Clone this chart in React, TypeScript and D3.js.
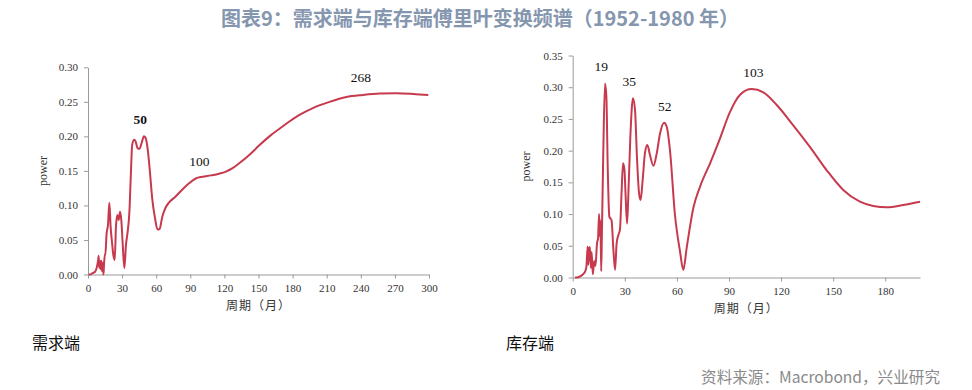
import React, { useEffect, useRef } from "react";
import * as d3 from "d3";

// ---- Data ----
const demandPeriods = [0.6, 1.8, 4, 6.2, 8.2, 9.0, 9.4, 9.8, 10.4, 10.6, 11.0, 11.7, 12.3, 12.9, 13.6, 14.1, 15.0, 15.2, 16.4, 17.6, 18.8, 19.9, 21.1, 22.3, 23.5, 24.6, 25.8, 27, 28.2, 29.3, 30.5, 32, 33.4, 34.9, 36.4, 37.6, 38.9, 40.6, 41.8, 43.6, 45.3, 47.1, 49.2, 50.6, 52.4, 54.2, 56.5, 58.9, 61.2, 63, 65.4, 68.3, 71.2, 77.1, 83, 88.9, 94.8, 100.7, 108, 115.4, 121.3, 127.2, 133, 141.9, 150.7, 159.6, 168.4, 177.2, 186, 197.8, 212.5, 227.3, 242, 256.7, 271.4, 286.1, 299.4];
const demandPower = [0, 0, 0.002, 0.004, 0.014, 0.022, 0.027, 0.01, 0.02, 0.014, 0.008, 0.02, 0.005, 0.017, 0.0, 0.015, 0.03, 0.028, 0.06, 0.072, 0.104, 0.069, 0.047, 0.028, 0.021, 0.069, 0.086, 0.079, 0.091, 0.079, 0.045, 0.009, 0.043, 0.062, 0.09, 0.14, 0.188, 0.195, 0.193, 0.183, 0.182, 0.19, 0.2, 0.198, 0.183, 0.154, 0.11, 0.082, 0.065, 0.066, 0.084, 0.097, 0.104, 0.113, 0.123, 0.132, 0.139, 0.1415, 0.1435, 0.146, 0.149, 0.154, 0.161, 0.173, 0.187, 0.2, 0.211, 0.2215, 0.231, 0.241, 0.25, 0.257, 0.26, 0.262, 0.2625, 0.2615, 0.26];

const inventoryPeriods = [1.3, 2.3, 5, 7.1, 7.9, 8.6, 9.0, 9.4, 9.9, 10.5, 10.9, 11.6, 12.4, 13.1, 14, 14.6, 15.2, 15.6, 16, 16.4, 16.8, 17.6, 18.6, 19.4, 20.2, 21.1, 22.4, 23.4, 24.4, 25.3, 26.3, 27.2, 28.2, 29, 29.8, 30.5, 31.3, 32, 33.2, 34.7, 35.9, 37, 38.2, 39.1, 40.3, 41.6, 43, 44.5, 46.5, 48.4, 50.3, 52.6, 54.1, 56, 58.9, 61.8, 63.7, 65.6, 69.5, 73.3, 79.1, 84.8, 90.6, 96.4, 103.1, 109.8, 117.5, 127, 136.6, 146.3, 155.8, 165.4, 173.1, 180.8, 190.4, 200];
const inventoryPower = [0, 0, 0.003, 0.009, 0.017, 0.049, 0.02, 0.045, 0.048, 0.015, 0.04, 0.005, 0.026, 0.018, 0.054, 0.062, 0.1, 0.065, 0.09, 0.01, 0.065, 0.196, 0.306, 0.285, 0.17, 0.096, 0.09, 0.045, 0.012, 0.054, 0.067, 0.075, 0.138, 0.18, 0.17, 0.127, 0.085, 0.127, 0.222, 0.2825, 0.264, 0.19, 0.133, 0.122, 0.154, 0.196, 0.209, 0.193, 0.176, 0.196, 0.227, 0.244, 0.238, 0.201, 0.0985, 0.041, 0.012, 0.046, 0.11, 0.143, 0.18, 0.219, 0.261, 0.288, 0.297, 0.292, 0.272, 0.24, 0.206, 0.169, 0.138, 0.1195, 0.1127, 0.1107, 0.1143, 0.1195];

const demandXTicks = [0, 30, 60, 90, 120, 150, 180, 210, 240, 270, 300];
const demandYTicks = [0, 0.05, 0.1, 0.15, 0.2, 0.25, 0.3];
const inventoryXTicks = [0, 30, 60, 90, 120, 150, 180];
const inventoryYTicks = [0, 0.05, 0.1, 0.15, 0.2, 0.25, 0.3, 0.35];

const demandPeaks = [
  { label: "50", period: 46, power: 0.2, bold: true },
  { label: "100", period: 98, power: 0.14, bold: false },
  { label: "268", period: 240, power: 0.262, bold: false },
];
const inventoryPeaks = [
  { label: "19", period: 16.5, power: 0.306 },
  { label: "35", period: 32.5, power: 0.2825 },
  { label: "52", period: 53, power: 0.244 },
  { label: "103", period: 104, power: 0.297 },
];

const title = "图表9：需求端与库存端傅里叶变换频谱（1952-1980 年）";
const xTitle = "周期（月）";
const yTitle = "power";
const leftCaption = "需求端";
const rightCaption = "库存端";
const source = "资料来源：Macrobond，兴业研究";

const LINE = "#C73A4E";
const AXIS = "#9a9a9a";
const SERIF = "'Liberation Serif', 'Times New Roman', serif";
const CJK = "'Noto Sans CJK SC', sans-serif";

export default function App() {
  const ref = useRef<SVGSVGElement>(null);

  useEffect(() => {
    const svg = d3.select(ref.current);
    svg.selectAll("*").remove();

    function panel(opts: any) {
      const { periods, power, xDomain, yDomain, xRange, yRange, xTicks, yTicks } = opts;
      const x = d3.scaleLinear().domain(xDomain).range(xRange);
      const y = d3.scaleLinear().domain(yDomain).range(yRange);
      const g = svg.append("g");

      const yAx = g.append("g").attr("transform", `translate(${xRange[0]},0)`)
        .call(d3.axisLeft(y).tickValues(yTicks).tickFormat(d3.format(".2f") as any).tickSizeInner(4).tickSizeOuter(0).tickPadding(6));
      const xAx = g.append("g").attr("transform", `translate(0,${yRange[0]})`)
        .call(d3.axisBottom(x).tickValues(xTicks).tickFormat(d3.format("d") as any).tickSizeInner(4).tickSizeOuter(0).tickPadding(6));
      [yAx, xAx].forEach((a) => {
        a.attr("font-family", SERIF);
        a.selectAll("path,line").attr("stroke", AXIS).attr("stroke-width", 1);
        a.selectAll("text").attr("font-family", SERIF).attr("font-size", 11).attr("fill", "#333");
      });

      const pts = periods.map((p: number, i: number) => [p, power[i]] as [number, number]);
      const line = d3.line<[number, number]>().x((d) => x(d[0])).y((d) => y(d[1])).curve(d3.curveMonotoneX);
      g.append("path").attr("d", line(pts)).attr("fill", "none").attr("stroke", LINE)
        .attr("stroke-width", 2).attr("stroke-linejoin", "round");

      opts.peaks.forEach((pk: any) => {
        g.append("text").attr("x", x(pk.period)).attr("y", y(pk.power) - 12)
          .attr("text-anchor", "middle").attr("font-family", SERIF).attr("font-size", 13.5)
          .attr("font-weight", pk.bold ? "bold" : "normal").attr("fill", "#111").text(pk.label);
      });

      g.append("text").attr("x", (xRange[0] + xRange[1]) / 2).attr("y", yRange[0] + 35)
        .attr("text-anchor", "middle").attr("font-family", SERIF + ", " + CJK).attr("font-size", 12)
        .attr("fill", "#333").attr("letter-spacing", 1).text(xTitle);
      g.append("text").attr("transform", `translate(${opts.yTitleX},${(yRange[0] + yRange[1]) / 2}) rotate(-90)`)
        .attr("text-anchor", "middle").attr("dominant-baseline", "middle").attr("font-family", SERIF)
        .attr("font-size", 12).attr("fill", "#333").text(yTitle);
    }

    panel({
      periods: demandPeriods, power: demandPower, xDomain: [0, 300], yDomain: [0, 0.3],
      xRange: [88, 429], yRange: [274.5, 67.3], xTicks: demandXTicks, yTicks: demandYTicks,
      peaks: demandPeaks, yTitleX: 44,
    });
    panel({
      periods: inventoryPeriods, power: inventoryPower, xDomain: [0, 200], yDomain: [0, 0.35],
      xRange: [572.7, 920], yRange: [277.5, 55.5], xTicks: inventoryXTicks, yTicks: inventoryYTicks,
      peaks: inventoryPeaks, yTitleX: 527,
    });

    svg.append("text").attr("x", 480).attr("y", 26).attr("text-anchor", "middle")
      .attr("font-family", CJK).attr("font-weight", "bold").attr("font-size", 20)
      .attr("fill", "#8596AF").text(title);
    svg.append("text").attr("x", 32).attr("y", 349).attr("font-family", CJK)
      .attr("font-size", 16).attr("fill", "#111").text(leftCaption);
    svg.append("text").attr("x", 506).attr("y", 349).attr("font-family", CJK)
      .attr("font-size", 16).attr("fill", "#111").text(rightCaption);
    svg.append("text").attr("x", 940).attr("y", 383).attr("text-anchor", "end").attr("font-family", CJK)
      .attr("font-size", 15.6).attr("fill", "#8a8a8a").text(source);
  }, []);

  return (
    <svg ref={ref} width={972} height={390}
      style={{ position: "absolute", left: 0, top: 0, background: "#fff", display: "block" }} />
  );
}
